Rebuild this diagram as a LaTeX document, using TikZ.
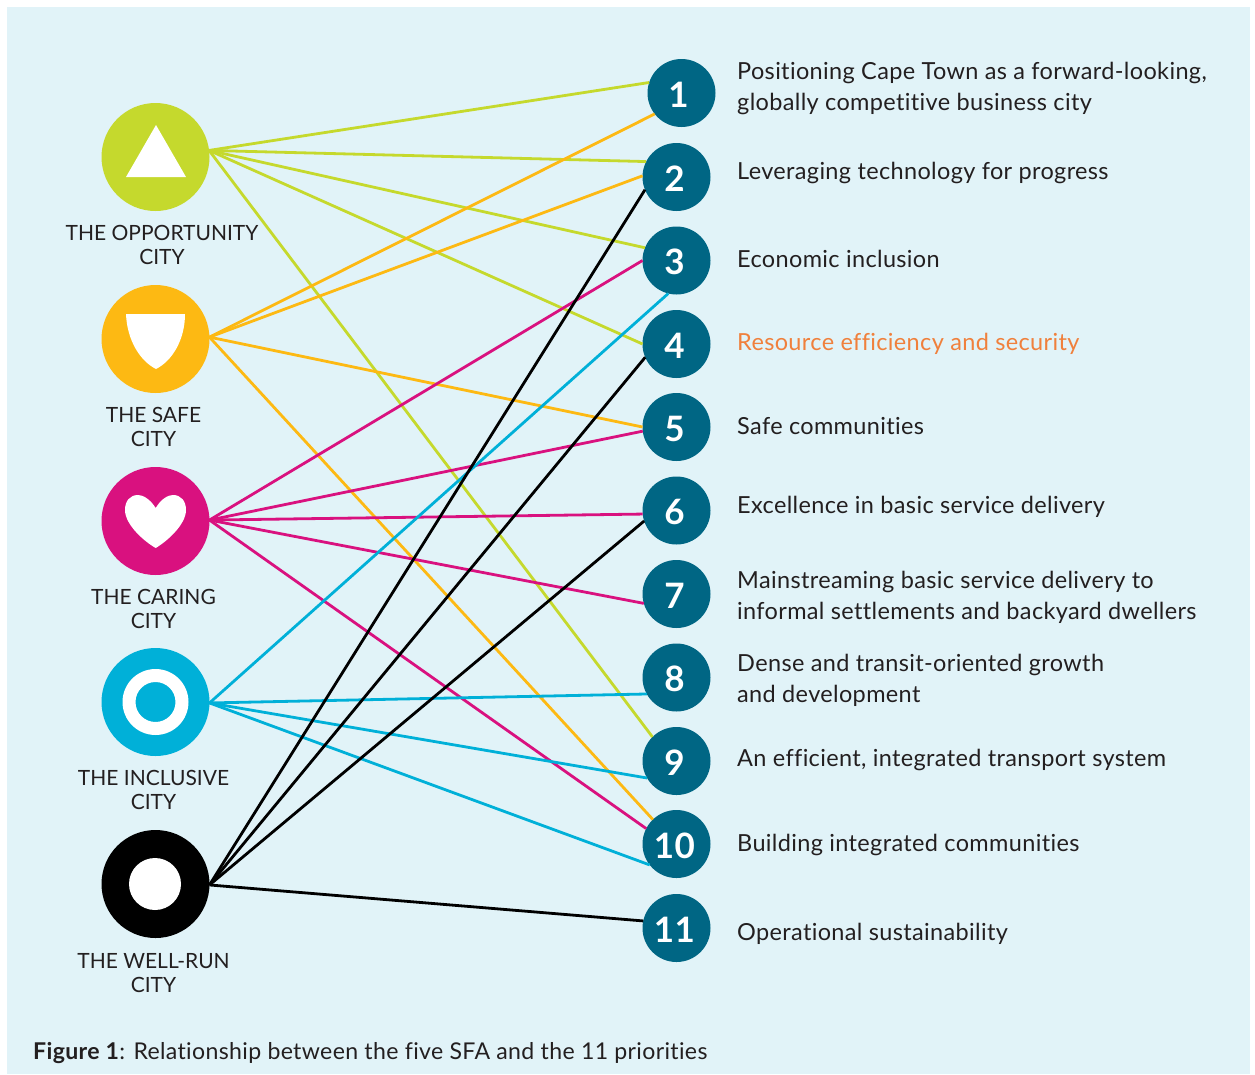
\documentclass[tikz,border=0pt]{standalone}
\usepackage{fontspec}
\setmainfont{Lato}[LetterSpace=1.5,Ligatures=NoCommon]
\newfontfamily\cityfont{Lato}[Ligatures=NoCommon]
\definecolor{panelblue}{HTML}{E1F3F8}
\definecolor{oppgreen}{HTML}{C5D92D}
\definecolor{safeorange}{HTML}{FDB913}
\definecolor{caremagenta}{HTML}{D9117F}
\definecolor{inclblue}{HTML}{00B0D8}
\definecolor{prioteal}{HTML}{006684}
\definecolor{darktext}{HTML}{231F20}
\definecolor{hilite}{HTML}{F0803C}
\tikzset{
  citydot/.style={circle, minimum size=108pt, inner sep=0pt, outer sep=0pt},
  priodot/.style={circle, fill=prioteal, text=white, minimum size=68pt, inner sep=0pt, outer sep=0pt,
    font=\fontsize{35}{35}\selectfont\bfseries},
  citylabel/.style={align=center, text=darktext, inner sep=0pt, font=\cityfont\fontsize{21}{24}\selectfont},
  priolabel/.style={align=left, anchor=west, text=darktext, inner sep=0pt, font=\fontsize{23.5}{31}\selectfont},
  link/.style={line width=2.8pt}
}
\begin{document}
\begin{tikzpicture}[x=1pt, y=-1pt]
  \useasboundingbox (0,0) rectangle (1255,1074);
  \fill[panelblue] (7,7) rectangle (1250,1074);

  % The five city circles
  \node[citydot, fill=oppgreen] (opp) at (155.5,157) {};
  \node[citydot, fill=safeorange] (safe) at (155.5,339) {};
  \node[citydot, fill=caremagenta] (care) at (155.5,521) {};
  \node[citydot, fill=inclblue] (incl) at (155.5,702) {};
  \node[citydot, fill=black] (well) at (155.5,884) {};

  % Icons inside the circles
  \fill[white] (156,125) -- (186,177) -- (126,177) -- cycle;
  \fill[white] (126,314) -- (185,314) .. controls (185,340) and (172,361) .. (156,369)
    .. controls (140,361) and (127,340) .. (126,314) -- cycle;
  \fill[white] (155.7,508) .. controls (150,499) and (143,495) .. (138,495)
    .. controls (130,495) and (125,501) .. (125,510)
    .. controls (125,525) and (145,542) .. (155.7,548)
    .. controls (166,542) and (186,525) .. (186,510)
    .. controls (186,501) and (181,495) .. (173,495)
    .. controls (168,495) and (161,499) .. (155.7,508) -- cycle;
  \fill[white, even odd rule] (155.5,702) circle (33) (155.5,702) circle (20);
  \fill[white] (155,884) circle (26);

  % City labels
  \node[citylabel] (lopp) at (162,245) {THE OPPORTUNITY\\CITY};
  \node[citylabel] (lsafe) at (153.5,427) {THE SAFE\\CITY};
  \node[citylabel] (lcare) at (153.5,609) {THE CARING\\CITY};
  \node[citylabel] (lincl) at (153.5,790) {THE INCLUSIVE\\CITY};
  \node[citylabel] (lwell) at (153.5,973) {THE WELL-RUN\\CITY};

  % Numbered priorities
  \node[priodot] (n1) at (681.5,93) {\rule{0pt}{29pt}\kern-6pt 1};
  \foreach \i/\y in {2/177,3/260.5,4/344,5/427,6/510.5,7/594,8/677.5,9/761,10/844,11/928} {
    \node[priodot] (n\i) at (676.5,\y) {\rule{0pt}{29pt}\kern-4pt\i};
  }

  % Priority texts
  \node[priolabel] (t1) at (737,88) {Positioning Cape Town as a forward-looking,\\globally competitive business city};
  \node[priolabel] (t2) at (737,173) {Leveraging technology for progress};
  \node[priolabel] (t3) at (737,259) {Economic inclusion};
  \node[priolabel, text=hilite] (t4) at (737,343.5) {Resource efficiency and security};
  \node[priolabel] (t5) at (737,426) {Safe communities};
  \node[priolabel] (t6) at (737,506.5) {Excellence in basic service delivery};
  \node[priolabel] (t7) at (737,597.5) {Mainstreaming basic service delivery to\\informal settlements and backyard dwellers};
  \node[priolabel] (t8) at (737,680.5) {Dense and transit-oriented growth\\and development};
  \node[priolabel] (t9) at (737,759.5) {An efficient, integrated transport system};
  \node[priolabel] (t10) at (737,844.5) {Building integrated communities};
  \node[priolabel] (t11) at (737,933.5) {Operational sustainability};

  % Links from each city to its priorities
  \foreach \t/\a in {n9/135,n4/180,n3/158,n2/153,n1/162} {
    \draw[link, oppgreen] (opp.7) -- (\t.\a);
  }
  \foreach \t/\a in {n10/134,n5/180,n2/178,n1/218} {
    \draw[link, safeorange] (safe.2) -- (\t.\a);
  }
  \foreach \t/\a in {n10/153,n7/196,n6/186,n5/187,n3/180} {
    \draw[link, caremagenta] (care.1) -- (\t.\a);
  }
  \foreach \t/\a in {n10/218,n9/210,n8/209,n3/256} {
    \draw[link, inclblue] (incl.-1) -- (\t.\a);
  }
  \foreach \t/\a in {n11/168,n6/198,n4/203,n2/202} {
    \draw[link, black] (well.-1) -- (\t.\a);
  }

  % Caption
  \node[anchor=base west, inner sep=0pt, text=darktext, font=\fontsize{23.1}{28}\selectfont] (cap) at (33,1059)
    {\textbf{Figure 1}: Relationship between the five SFA and the 11 priorities};
\end{tikzpicture}
\end{document}
